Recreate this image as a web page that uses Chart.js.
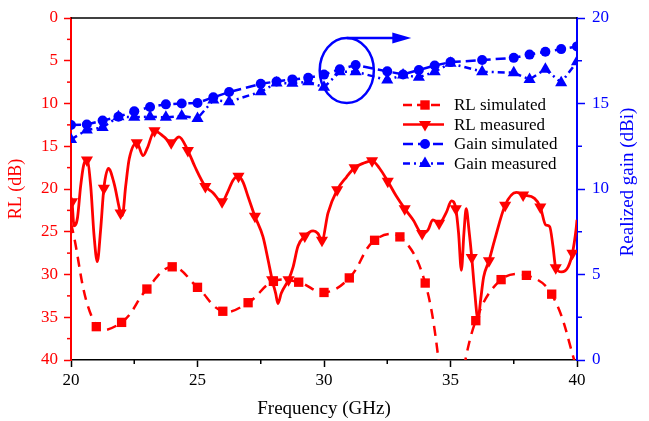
<!DOCTYPE html>
<html>
<head>
<meta charset="utf-8">
<script src="https://cdn.jsdelivr.net/npm/chart.js@4.4.0/dist/chart.umd.min.js"></script>
<style>
    html, body { margin: 0; padding: 0; background: #fff; }
</style>
</head>
<body>
<canvas id="chart" width="649" height="421"></canvas>
<script>
// Return loss, simulated (one point per GHz)
const rlSimFreq = [20, 21, 22, 23, 24, 25, 26, 27, 28, 29, 30, 31, 32, 33, 34, 35, 36, 37, 38, 39, 40];
const rlSimVal = [24, 36.1, 35.6, 31.7, 29.1, 31.5, 34.3, 33.3, 30.8, 30.9, 32.1, 30.4, 26.0, 25.6, 31.0, 46, 35.4, 30.6, 30.1, 32.3, 41];

// Return loss, measured (traced curve)
const rlMeasFreq = [20.0, 20.04, 20.12, 20.18, 20.26, 20.38, 20.5, 20.63, 20.78, 20.91, 21.04, 21.17, 21.3, 21.48, 21.7,
    21.96, 22.03, 22.16, 22.3, 22.6, 22.85, 23.02, 23.3, 23.68, 23.96, 24.27, 24.62, 24.9, 25.31, 25.6, 25.97,
    26.2, 26.4, 26.62, 26.8, 27.0, 27.27, 27.59, 27.79, 27.95, 28.09, 28.18, 28.31, 28.6, 28.78, 28.97, 29.24,
    29.57, 29.76, 29.92, 30.16, 30.52, 30.89, 31.21, 31.54, 31.9, 32.2, 32.52, 32.85, 33.19, 33.52, 33.88, 34.11,
    34.3, 34.55, 34.84, 35.04, 35.21, 35.32, 35.43, 35.53, 35.62, 35.73, 35.84, 35.95, 36.09, 36.19, 36.31, 36.52,
    36.74, 37.16, 37.6, 37.87, 38.32, 38.55, 38.76, 38.92, 39.05, 39.16, 39.39, 39.65, 39.82, 39.96, 40.0];
const rlMeasVal = [21.0, 21.5, 24.3, 24.2, 23.3, 19.7, 17.2, 16.6, 19.7, 25.4, 28.5, 24.8, 19.9, 17.6, 19.3,
    22.8, 23.1, 19.7, 16.5, 14.6, 16.1, 15.2, 13.2, 13.9, 14.6, 13.9, 15.5, 17.4, 19.7, 20.4, 21.5,
    20.3, 19.0, 18.5, 19.2, 20.9, 23.2, 25.6, 28.3, 30.6, 32.2, 33.4, 32.2, 30.6, 29.1, 26.7, 25.5,
    24.9, 25.2, 26.0, 22.8, 20.1, 18.6, 17.5, 17.0, 16.7, 17.6, 19.1, 20.8, 22.3, 23.6, 25.2, 24.8,
    23.6, 24.0, 22.7, 21.4, 22.3, 25.2, 29.5, 25.2, 22.3, 24.8, 28.0, 31.8, 35.3, 33.0, 30.3, 28.4,
    26.0, 21.9, 20.4, 20.7, 21.1, 22.1, 24.2, 24.4, 26.7, 29.2, 29.7, 29.1, 27.5, 24.8, 23.6];
// frequencies of the measured curve that carry a marker
const rlMeasMarks = [20.04, 20.63, 21.3, 21.96, 22.6, 23.3, 23.96, 24.62, 25.31, 25.97, 26.62, 27.27, 27.95, 28.6,
    29.24, 29.92, 30.52, 31.21, 31.9, 32.52, 33.19, 33.88, 34.55, 35.21, 35.84, 36.52, 37.16, 37.87, 38.55, 39.16, 39.82];

// Realized gain (right axis)
const gainFreq = [20, 20.625, 21.25, 21.875, 22.5, 23.125, 23.75, 24.375, 25, 25.625, 26.25, 27.5, 28.125, 28.75,
    29.375, 30, 30.625, 31.25, 32.5, 33.125, 33.75, 34.375, 35, 36.25, 37.5, 38.125, 38.75, 39.375, 40];
const gainSim = [13.74, 13.77, 14.0, 14.23, 14.54, 14.8, 14.95, 15.0, 15.03, 15.36, 15.67, 16.15, 16.29, 16.41,
    16.5, 16.69, 17.0, 17.25, 16.88, 16.7, 16.96, 17.22, 17.42, 17.54, 17.67, 17.86, 18.03, 18.18, 18.34];
const gainMeas = [12.9, 13.45, 13.6, 14.23, 14.19, 14.23, 14.19, 14.27, 14.13, 15.2, 15.1, 15.69, 16.2, 16.18,
    16.27, 15.95, 16.86, 16.86, 16.37, 16.67, 16.53, 16.86, 17.35, 16.86, 16.8, 16.41, 17.0, 16.22, 17.44];

const xTicks = [20, 25, 30, 35, 40];
const rlTicks = [0, 5, 10, 15, 20, 25, 30, 35, 40];
const gainTicks = [0, 5, 10, 15, 20];

const SERIF = '"Liberation Serif", "Times New Roman", serif';
const RED = '#ff0000';
const BLUE = '#0000ff';

const toPoints = (xs, ys) => xs.map((x, i) => ({ x: x, y: ys[i] }));

const legendItems = [
    { label: 'RL simulated', color: RED, dash: [9, 5], marker: 'rect' },
    { label: 'RL measured', color: RED, dash: [], marker: 'down' },
    { label: 'Gain simulated', color: BLUE, dash: [10, 5], marker: 'circle' },
    { label: 'Gain measured', color: BLUE, dash: [7, 4, 2, 4], marker: 'up' }
];

function drawMarker(ctx, type, x, y) {
    ctx.beginPath();
    if (type === 'rect') {
        ctx.rect(x - 4.7, y - 4.7, 9.4, 9.4);
    } else if (type === 'circle') {
        ctx.arc(x, y, 5, 0, Math.PI * 2);
    } else {
        const r = 7, s = type === 'up' ? 1 : -1;
        ctx.moveTo(x, y - s * r);
        ctx.lineTo(x + 0.866 * r, y + s * r / 2);
        ctx.lineTo(x - 0.866 * r, y + s * r / 2);
        ctx.closePath();
    }
    ctx.fill();
}

const decorations = {
    id: 'decorations',
    afterDraw(chart) {
        const { ctx, chartArea: a, scales } = chart;
        const x = scales.x, yl = scales.yRL, yg = scales.yGain;
        ctx.save();

        // top frame line
        ctx.strokeStyle = '#000';
        ctx.lineWidth = 1.5;
        ctx.beginPath();
        ctx.moveTo(a.left, a.top);
        ctx.lineTo(a.right, a.top);
        ctx.stroke();

        // minor ticks
        ctx.lineWidth = 1.5;
        ctx.strokeStyle = '#000';
        [22.5, 27.5, 32.5, 37.5].forEach(v => {
            const px = x.getPixelForValue(v);
            ctx.beginPath(); ctx.moveTo(px, a.bottom); ctx.lineTo(px, a.bottom + 4); ctx.stroke();
        });
        ctx.strokeStyle = RED;
        [2.5, 7.5, 12.5, 17.5, 22.5, 27.5, 32.5, 37.5].forEach(v => {
            const py = yl.getPixelForValue(v);
            ctx.beginPath(); ctx.moveTo(a.left, py); ctx.lineTo(a.left - 4, py); ctx.stroke();
        });
        ctx.strokeStyle = BLUE;
        [2.5, 7.5, 12.5, 17.5].forEach(v => {
            const py = yg.getPixelForValue(v);
            ctx.beginPath(); ctx.moveTo(a.right, py); ctx.lineTo(a.right + 5, py); ctx.stroke();
        });

        // right axis title, reading bottom to top
        ctx.save();
        ctx.translate(628, 182);
        ctx.rotate(-Math.PI / 2);
        ctx.fillStyle = BLUE;
        ctx.font = '19px ' + SERIF;
        ctx.textAlign = 'center';
        ctx.textBaseline = 'middle';
        ctx.fillText('Realized gain (dBi)', 0, 0);
        ctx.restore();

        // ellipse around the 30-32 GHz gain points and arrow to the right
        const cx = x.getPixelForValue(30.9), cy = yg.getPixelForValue(16.93);
        const rx = x.getPixelForValue(31.97) - cx;
        const ry = cy - yg.getPixelForValue(18.83);
        ctx.strokeStyle = BLUE;
        ctx.lineWidth = 2.5;
        ctx.beginPath();
        ctx.ellipse(cx, cy, rx, ry, 0, 0, Math.PI * 2);
        ctx.stroke();
        const ay = cy - ry;
        const tip = x.getPixelForValue(33.45);
        ctx.beginPath();
        ctx.moveTo(cx, ay);
        ctx.lineTo(tip - 15, ay);
        ctx.stroke();
        ctx.fillStyle = BLUE;
        ctx.beginPath();
        ctx.moveTo(tip, ay);
        ctx.lineTo(tip - 19, ay - 5.5);
        ctx.lineTo(tip - 19, ay + 5.5);
        ctx.closePath();
        ctx.fill();

        // legend
        ctx.font = '17px ' + SERIF;
        ctx.textBaseline = 'middle';
        ctx.textAlign = 'left';
        legendItems.forEach((item, i) => {
            const ly = 105 + i * 19.5;
            ctx.strokeStyle = item.color;
            ctx.fillStyle = item.color;
            ctx.lineWidth = 2.5;
            ctx.setLineDash(item.dash);
            ctx.beginPath();
            ctx.moveTo(403, ly);
            ctx.lineTo(444, ly);
            ctx.stroke();
            ctx.setLineDash([]);
            drawMarker(ctx, item.marker, 425, ly);
            ctx.fillStyle = '#000';
            ctx.fillText(item.label, 454, ly + 1);
        });

        ctx.restore();
    }
};

const ctx = document.getElementById('chart').getContext('2d');
const chart = new Chart(ctx, {
    type: 'line',
    data: {
        datasets: [
            {
                label: 'RL measured',
                data: toPoints(rlMeasFreq, rlMeasVal),
                yAxisID: 'yRL',
                borderColor: RED,
                backgroundColor: RED,
                borderWidth: 2.8,
                cubicInterpolationMode: 'monotone',
                pointStyle: 'triangle',
                rotation: 180,
                pointRadius: c => rlMeasMarks.includes(rlMeasFreq[c.dataIndex]) ? 7 : 0,
                pointBorderWidth: 0
            },
            {
                label: 'RL simulated',
                data: toPoints(rlSimFreq, rlSimVal),
                yAxisID: 'yRL',
                borderColor: RED,
                backgroundColor: RED,
                borderWidth: 2.5,
                borderDash: [10, 7],
                tension: 0.4,
                pointStyle: 'rect',
                // the 20 GHz marker sits hidden under the measured curve
                pointRadius: c => c.dataIndex === 0 ? 0 : 6.6,
                pointBorderWidth: 0
            },
            {
                label: 'Gain simulated',
                data: toPoints(gainFreq, gainSim),
                yAxisID: 'yGain',
                borderColor: BLUE,
                backgroundColor: BLUE,
                borderWidth: 2.5,
                borderDash: [10, 5],
                pointStyle: 'circle',
                pointRadius: 5,
                pointBorderWidth: 0
            },
            {
                label: 'Gain measured',
                data: toPoints(gainFreq, gainMeas),
                yAxisID: 'yGain',
                borderColor: BLUE,
                backgroundColor: BLUE,
                borderWidth: 2.5,
                borderDash: [7, 4, 2, 4],
                pointStyle: 'triangle',
                pointRadius: 7,
                pointBorderWidth: 0
            }
        ]
    },
    options: {
        responsive: false,
        animation: false,
        layout: { padding: { top: 18, right: 0, bottom: 0, left: 0 } },
        plugins: { legend: { display: false }, tooltip: { enabled: false } },
        scales: {
            x: {
                type: 'linear',
                min: 20,
                max: 40,
                afterBuildTicks: s => { s.ticks = xTicks.map(v => ({ value: v })); },
                ticks: { color: '#000', font: { family: SERIF, size: 17 }, padding: 3, maxRotation: 0 },
                grid: { drawOnChartArea: false, tickLength: 7, color: '#000', tickWidth: 1.5 },
                border: { color: '#000', width: 1.5 },
                title: {
                    display: true, text: 'Frequency (GHz)', color: '#000',
                    font: { family: SERIF, size: 19 }, padding: { top: 0, bottom: 1 }
                },
                afterFit: s => { s.height = 61; }
            },
            yRL: {
                position: 'left',
                reverse: true,
                min: 0,
                max: 40,
                afterBuildTicks: s => { s.ticks = rlTicks.map(v => ({ value: v })); },
                ticks: { color: RED, font: { family: SERIF, size: 17 }, padding: 6 },
                grid: { drawOnChartArea: false, tickLength: 7, color: RED, tickWidth: 1.5 },
                border: { color: RED, width: 2 },
                title: {
                    display: true, text: 'RL (dB)', color: RED,
                    font: { family: SERIF, size: 18 }, padding: { top: 5, bottom: 0 }
                },
                afterFit: s => { s.width = 71; }
            },
            yGain: {
                position: 'right',
                min: 0,
                max: 20,
                afterBuildTicks: s => { s.ticks = gainTicks.map(v => ({ value: v })); },
                ticks: { color: BLUE, font: { family: SERIF, size: 17 }, padding: 7 },
                grid: { drawOnChartArea: false, tickLength: 8, color: BLUE, tickWidth: 1.5 },
                border: { color: BLUE, width: 2 },
                afterFit: s => { s.width = 72; }
            }
        }
    },
    plugins: [decorations]
});
</script>
</body>
</html>
